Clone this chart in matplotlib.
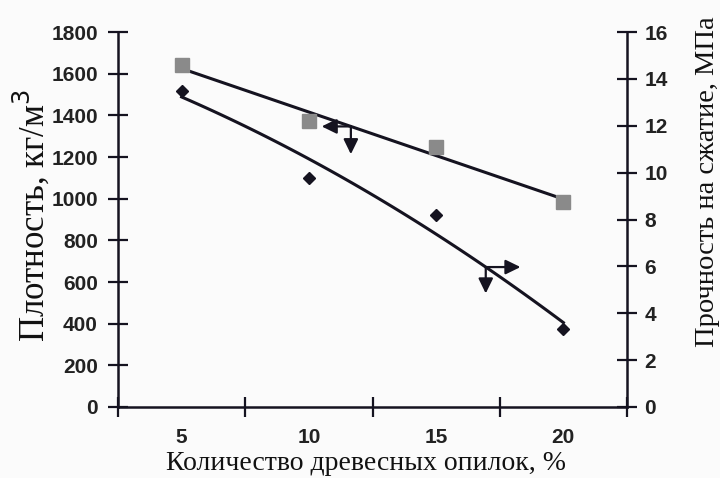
import numpy as np
import matplotlib
matplotlib.use('Agg')
import matplotlib.pyplot as plt
from matplotlib.ticker import FixedLocator, MultipleLocator

#%% Data

sawdust = [5, 10, 15, 20]                 # Количество древесных опилок, %
density = [1640, 1372, 1248, 985]          # Плотность, кг/м3 (squares, left axis)
strength = [13.5, 9.77, 8.19, 3.33]        # Прочность на сжатие, МПа (diamonds, right axis)

ink = '#151320'
serif = ['Liberation Serif', 'DejaVu Serif']
sans = ['Liberation Sans', 'DejaVu Sans']

#%% Figure

fig = plt.figure(figsize=(7.2, 4.78), dpi=100)
fig.patch.set_facecolor('#fbfbfb')
ax = fig.add_axes([118/720, 1 - 407/478, (627-118)/720, (407-32)/478])
ax.patch.set_alpha(0)
ax2 = ax.twinx()

x = np.arange(len(sawdust))

# density: points + linear trend
ax.plot(x, density, 's', color='#8a8a8a', markersize=9.5, zorder=3)
p1 = np.polyfit(x, density, 1)
xl = np.linspace(0, 3, 50)
ax.plot(xl, np.polyval(p1, xl), color=ink, lw=2.2, zorder=2)

# strength: points + 2nd order trend
ax2.plot(x, strength, 'D', color=ink, markersize=6.5, zorder=3)
p2 = np.polyfit(x, strength, 2)
ax2.plot(xl, np.polyval(p2, xl), color=ink, lw=2.2, zorder=2)

# arrows showing which axis each line belongs to
arr = dict(arrowstyle='<|-,head_length=0.45,head_width=0.22', color=ink,
           lw=1.6, shrinkA=0, shrinkB=0, mutation_scale=20)
xa = 1.33
ya = np.polyval(p1, xa)
ax.annotate('', xy=(xa, ya), xytext=(-21, 0), textcoords='offset points', arrowprops=arr)
ax.annotate('', xy=(xa, ya), xytext=(0, -20), textcoords='offset points', arrowprops=arr)
xb = 2.39
yb = np.polyval(p2, xb)
ax2.annotate('', xy=(xb, yb), xytext=(25, 0), textcoords='offset points', arrowprops=arr)
ax2.annotate('', xy=(xb, yb), xytext=(0, -19), textcoords='offset points', arrowprops=arr)

# axes ranges and ticks
ax.set_xlim(-0.5, 3.5)
ax.set_ylim(0, 1800)
ax2.set_ylim(0, 16)
ax.yaxis.set_major_locator(MultipleLocator(200))
ax2.yaxis.set_major_locator(MultipleLocator(2))

ax.set_xticks(x)
ax.set_xticklabels([str(s) for s in sawdust])
ax.xaxis.set_minor_locator(FixedLocator(np.arange(-0.5, 3.6, 1)))
ax.tick_params(axis='x', which='major', length=0, pad=15)
ax.tick_params(axis='x', which='minor', direction='inout', length=15, width=1.6, color=ink)
ax.tick_params(axis='y', direction='inout', length=15, width=1.6, color=ink, pad=7)
ax2.tick_params(axis='y', direction='inout', length=15, width=1.6, color=ink, pad=5)

for a in (ax, ax2):
    a.spines['top'].set_visible(False)
    for s in ('left', 'right', 'bottom'):
        a.spines[s].set_color(ink)
        a.spines[s].set_linewidth(1.8)
    for lab in a.get_xticklabels() + a.get_yticklabels():
        lab.set_family(sans)
        lab.set_fontsize(15)
        lab.set_fontweight('bold')
        lab.set_color('#222222')
ax2.spines['left'].set_visible(False)
ax2.spines['bottom'].set_visible(False)
ax.spines['right'].set_visible(False)

# axis titles
fig.text(31/720, 1 - 215/478, 'Плотность, кг/м$^3$', rotation=90, ha='center', va='center',
         family=serif, fontsize=25, color='#111111')
fig.text(708/720, 1 - 182/478, 'Прочность на сжатие, МПа', rotation=90, ha='center', va='center',
         family=serif, fontsize=20.5, color='#111111')
fig.text(366/720, 1 - 463/478, 'Количество древесных опилок, %', ha='center', va='center',
         family=serif, fontsize=20, color='#111111')

fig.savefig('out.png', dpi=100, facecolor=fig.get_facecolor())
